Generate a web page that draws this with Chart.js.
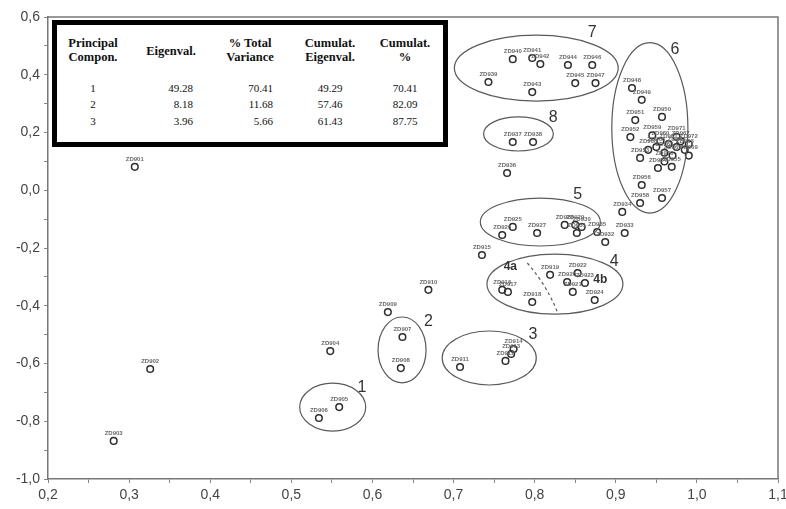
<!DOCTYPE html>
<html lang="en">
<head>
<meta charset="UTF-8">
<title>PCA loadings</title>
<style>
  body { margin: 0; background: #fff; }
  #wrap { position: relative; width: 786px; height: 509px; }
  #tbl {
    position: absolute; left: 52px; top: 20px;
    width: 386px; height: 117px;
    border: 5px solid #000; background: #fff;
    font-family: "Liberation Serif", "Times New Roman", serif; color: #111;
  }
  #tbl span { position: absolute; white-space: nowrap; }
  .h { font-weight: bold; font-size: 12.5px; line-height: 14px; text-align: center; transform: translateX(-50%); }
  .c { font-size: 11px; line-height: 12px; transform: translateX(-50%); }
  .r { font-size: 11px; line-height: 12px; transform: translateX(-100%); }
</style>
</head>
<body>
<div id="wrap">
  <canvas id="pca" width="786" height="509"></canvas>
  <div id="tbl"></div>
</div>

<script src="https://cdn.jsdelivr.net/npm/chart.js"></script>
<script>
  // loadings (factor 1 on x, factor 2 on y)
  const xVals = [
    0.307, 0.326, 0.281, 0.548,
    0.559, 0.534,
    0.637, 0.635, 0.619, 0.669,
    0.708, 0.764, 0.771, 0.774,
    0.735,
    0.760, 0.767, 0.797, 0.819, 0.840, 0.847, 0.853, 0.862, 0.874,
    0.773, 0.760, 0.803, 0.837, 0.850, 0.858, 0.852, 0.887, 0.911, 0.908, 0.877,
    0.766,
    0.773, 0.798,
    0.743, 0.773, 0.797, 0.807, 0.797, 0.841, 0.850, 0.871, 0.875,
    0.920, 0.932, 0.957, 0.924, 0.918, 0.930, 0.952, 0.969, 0.932, 0.957, 0.930,
    0.945, 0.955, 0.965, 0.975, 0.985, 0.960, 0.970, 0.950, 0.980, 0.940, 0.990, 0.960, 0.975, 0.990
  ];
  const yVals = [
    0.081, -0.619, -0.868, -0.557,
    -0.751, -0.789,
    -0.508, -0.616, -0.422, -0.345,
    -0.612, -0.591, -0.567, -0.550,
    -0.224,
    -0.345, -0.352, -0.387, -0.293, -0.318, -0.352, -0.287, -0.321, -0.380,
    -0.127, -0.155, -0.148, -0.120, -0.120, -0.127, -0.148, -0.179, -0.148, -0.075, -0.145,
    0.060,
    0.167, 0.167,
    0.375, 0.454, 0.458, 0.437, 0.340, 0.434, 0.371, 0.434, 0.371,
    0.354, 0.313, 0.254, 0.243, 0.184, 0.112, 0.077, 0.081, 0.018, -0.027, -0.044,
    0.190, 0.170, 0.160, 0.150, 0.140, 0.130, 0.120, 0.150, 0.170, 0.140, 0.120, 0.100, 0.185, 0.160
  ];

  // cluster outlines: centre and half-axes in data units
  const groupNames = ['1', '2', '3', '4', '5', '6', '7', '8'];
  const groupCx = [0.551, 0.6365, 0.744, 0.825, 0.807, 0.942, 0.802, 0.780];
  const groupCy = [-0.751, -0.553, -0.581, -0.325, -0.110, 0.216, 0.423, 0.195];
  const groupRx = [0.0407, 0.0296, 0.058, 0.0838, 0.074, 0.0469, 0.101, 0.043];
  const groupRy = [0.083, 0.114, 0.0935, 0.104, 0.083, 0.295, 0.114, 0.059];
  const groupLabelX = [0.587, 0.669, 0.798, 0.898, 0.853, 0.973, 0.871, 0.823];
  const groupLabelY = [-0.685, -0.456, -0.501, -0.248, -0.016, 0.486, 0.545, 0.250];
  const subNames = ['4a', '4b'];
  const subX = [0.770, 0.881];
  const subY = [-0.266, -0.311];

  // eigenvalue table
  const tblHead = [['Principal', 'Compon.'], ['Eigenval.'], ['% Total', 'Variance'], ['Cumulat.', 'Eigenval.'], ['Cumulat.', '%']];
  const comp = ['1', '2', '3'];
  const eigen = ['49.28', '8.18', '3.96'];
  const pctVar = ['70.41', '11.68', '5.66'];
  const cumEigen = ['49.29', '57.46', '61.43'];
  const cumPct = ['70.41', '82.09', '87.75'];

  // build table (page coords minus box origin 57,25)
  const tbl = document.getElementById('tbl');
  function put(cls, text, x, y) {
    const s = document.createElement('span');
    s.className = cls;
    s.textContent = text;
    s.style.left = (x - 57) + 'px';
    s.style.top = (y - 25) + 'px';
    tbl.appendChild(s);
  }
  const headX = [93, 171, 250, 330, 405];
  tblHead.forEach((h, i) => {
    const top = h.length === 2 ? 36 : 44;
    put('h', h.join('\n'), headX[i], top);
  });
  document.querySelectorAll('#tbl .h').forEach(s => s.style.whiteSpace = 'pre');
  const rowY = [82, 98, 115];
  comp.forEach((c, i) => {
    put('c', c, 93, rowY[i]);
    put('r', eigen[i], 193, rowY[i]);
    put('r', pctVar[i], 273, rowY[i]);
    put('c', cumEigen[i], 330, rowY[i]);
    put('c', cumPct[i], 405, rowY[i]);
  });

  const decorations = {
    id: 'decorations',
    afterDatasetsDraw(chart) {
      const c = chart.ctx, sx = chart.scales.x, sy = chart.scales.y;
      const a = chart.chartArea;
      c.save();
      // frame top/right
      c.strokeStyle = '#777';
      c.lineWidth = 1.5;
      c.beginPath();
      c.moveTo(a.left, a.top); c.lineTo(a.right, a.top); c.lineTo(a.right, a.bottom);
      c.stroke();

      // point labels
      c.fillStyle = '#6a6a6a';
      c.font = 'bold 6px "Liberation Sans", Arial';
      c.textAlign = 'center';
      c.textBaseline = 'bottom';
      xVals.forEach((x, i) => {
        c.fillText('ZD' + (901 + i), sx.getPixelForValue(x), sy.getPixelForValue(yVals[i]) - 5);
      });

      // ellipses
      c.strokeStyle = '#5a5a5a';
      c.lineWidth = 1.2;
      groupCx.forEach((gx, i) => {
        const px = sx.getPixelForValue(gx), py = sy.getPixelForValue(groupCy[i]);
        const rx = sx.getPixelForValue(gx + groupRx[i]) - px;
        const ry = py - sy.getPixelForValue(groupCy[i] + groupRy[i]);
        c.beginPath();
        c.ellipse(px, py, rx, ry, 0, 0, Math.PI * 2);
        c.stroke();
      });

      // dashed split inside group 4
      c.setLineDash([3, 3]);
      c.beginPath();
      c.moveTo(sx.getPixelForValue(0.791), sy.getPixelForValue(-0.252));
      c.quadraticCurveTo(sx.getPixelForValue(0.815), sy.getPixelForValue(-0.33),
                         sx.getPixelForValue(0.828), sy.getPixelForValue(-0.422));
      c.stroke();
      c.setLineDash([]);

      // group numbers
      c.fillStyle = '#333';
      c.textBaseline = 'middle';
      c.font = '16px "Liberation Sans", Arial';
      groupNames.forEach((n, i) => {
        c.fillText(n, sx.getPixelForValue(groupLabelX[i]), sy.getPixelForValue(groupLabelY[i]));
      });
      c.font = 'bold 12px "Liberation Sans", Arial';
      subNames.forEach((n, i) => {
        c.fillText(n, sx.getPixelForValue(subX[i]), sy.getPixelForValue(subY[i]));
      });
      c.restore();
    }
  };

  const fmt = v => v.toFixed(1).replace('.', ',');

  new Chart(document.getElementById('pca'), {
    type: 'scatter',
    data: {
      datasets: [{
        data: xVals.map((x, i) => ({ x: x, y: yVals[i] })),
        pointRadius: 3.3,
        pointBorderColor: '#2e2e2e',
        pointBackgroundColor: 'rgba(255,255,255,0)',
        pointBorderWidth: 1.5
      }]
    },
    options: {
      responsive: false,
      animation: false,
      layout: { padding: { top: 17, right: 8, left: 0, bottom: 0 } },
      plugins: { legend: { display: false }, tooltip: { enabled: false } },
      scales: {
        x: {
          type: 'linear', min: 0.2, max: 1.1,
          ticks: {
            stepSize: 0.05, autoSkip: false, maxRotation: 0, padding: 4,
            color: '#444', font: { family: 'Liberation Sans', size: 14 },
            callback: v => Math.round(v * 20) % 2 === 0 ? fmt(v) : ''
          },
          grid: { drawOnChartArea: false, tickLength: 4, color: '#888' },
          border: { color: '#777', width: 1.5 },
          afterFit(s) { s.height = 30; s.paddingLeft = 0; s.paddingRight = 0; }
        },
        y: {
          type: 'linear', min: -1, max: 0.6,
          ticks: {
            stepSize: 0.1, autoSkip: false, padding: 4,
            color: '#444', font: { family: 'Liberation Sans', size: 14 },
            callback: v => Math.round(v * 10) % 2 === 0 ? fmt(v) : ''
          },
          grid: { drawOnChartArea: false, tickLength: 4, color: '#888' },
          border: { color: '#777', width: 1.5 },
          afterFit(s) { s.width = 48; s.paddingTop = 0; s.paddingBottom = 0; }
        }
      }
    },
    plugins: [decorations]
  });
</script>
</body>
</html>
